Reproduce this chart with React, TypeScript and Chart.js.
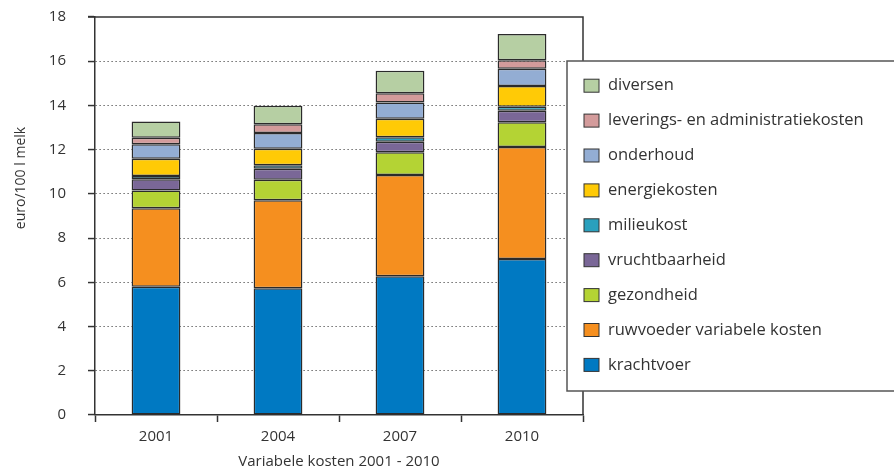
import React, { useEffect, useRef } from "react";
import { Chart, registerables } from "chart.js";

Chart.register(...registerables);

const categories = ["2001", "2004", "2007", "2010"];
const krachtvoer = [5.8, 5.73, 6.27, 7.06];
const ruwvoeder = [3.55, 3.98, 4.58, 5.06];
const gezondheid = [0.8, 0.93, 1.03, 1.12];
const vruchtbaarheid = [0.51, 0.5, 0.48, 0.52];
const milieukost = [0.15, 0.15, 0.2, 0.18];
const energiekosten = [0.78, 0.75, 0.84, 0.94];
const onderhoud = [0.65, 0.71, 0.73, 0.78];
const leverings = [0.3, 0.4, 0.42, 0.38];
const diversen = [0.73, 0.84, 1.02, 1.19];
const yTicks = [0, 2, 4, 6, 8, 10, 12, 14, 16, 18];

const FONT = "'Open Sans', 'Noto Sans', sans-serif";
const TXT = "#333333";

const overlayPlugin = {
  id: "overlay",
  afterDraw(chart: any) {
    const { ctx, chartArea } = chart;
    ctx.save();
    ctx.strokeStyle = "#333";
    ctx.lineWidth = 1.5;
    ctx.beginPath();
    ctx.moveTo(chartArea.left - 7, chartArea.top);
    ctx.lineTo(chartArea.right, chartArea.top);
    ctx.lineTo(chartArea.right, chartArea.bottom);
    ctx.stroke();

    ctx.fillStyle = TXT;
    ctx.font = `14px ${FONT}`;
    ctx.textAlign = "center";
    ctx.textBaseline = "middle";
    ctx.save();
    ctx.translate(21, 178);
    ctx.rotate(-Math.PI / 2);
    ctx.fillText("euro/100 l melk", 0, 0);
    ctx.restore();

    const lx = 567, ly = 61, lb = 391;
    ctx.fillStyle = "#fff";
    ctx.fillRect(lx, ly, 400, lb - ly);
    ctx.strokeStyle = "#555";
    ctx.lineWidth = 1.5;
    ctx.strokeRect(lx, ly, 400, lb - ly);

    const ds = chart.data.datasets.slice().reverse();
    const y0 = 85.7;
    const step = 34.9;
    ctx.font = `16.5px ${FONT}`;
    ctx.textAlign = "left";
    ctx.textBaseline = "middle";
    ds.forEach((d: any, i: number) => {
      const cy = y0 + i * step;
      ctx.fillStyle = d.backgroundColor;
      ctx.fillRect(584, cy - 6.5, 15, 13);
      ctx.strokeStyle = "#333";
      ctx.lineWidth = 1;
      ctx.strokeRect(584, cy - 6.5, 15, 13);
      ctx.fillStyle = TXT;
      ctx.fillText(d.label, 608, cy);
    });
    ctx.restore();
  },
};

export default function App() {
  const ref = useRef<HTMLCanvasElement | null>(null);
  useEffect(() => {
    if (!ref.current) return;
    const mk = (label: string, data: number[], color: string) => ({
      label,
      data,
      backgroundColor: color,
      borderColor: "#2b2b2b",
      borderWidth: 1.5,
      borderSkipped: false,
      inflateAmount: 0,
      barPercentage: 0.4,
      categoryPercentage: 1,
    });
    const chart = new Chart(ref.current, {
      type: "bar",
      data: {
        labels: categories,
        datasets: [
          mk("krachtvoer", krachtvoer, "#0079c2"),
          mk("ruwvoeder variabele kosten", ruwvoeder, "#f58f1f"),
          mk("gezondheid", gezondheid, "#b4d334"),
          mk("vruchtbaarheid", vruchtbaarheid, "#7a6797"),
          mk("milieukost", milieukost, "#2aa0bd"),
          mk("energiekosten", energiekosten, "#ffca06"),
          mk("onderhoud", onderhoud, "#93add3"),
          mk("leverings- en administratiekosten", leverings, "#d39b9b"),
          mk("diversen", diversen, "#b6cfa3"),
        ] as any,
      },
      options: {
        responsive: false,
        animation: false,
        layout: { padding: { top: 17, right: 311, left: 0, bottom: 0 } },
        plugins: { legend: { display: false }, tooltip: { enabled: false } },
        scales: {
          x: {
            stacked: true,
            afterFit: (s: any) => {
              s.height = 56;
              s.paddingLeft = 0;
              s.paddingRight = 0;
            },
            grid: {
              display: true,
              drawOnChartArea: false,
              drawTicks: true,
              tickLength: 7,
              offset: true,
              tickColor: "#333",
              tickWidth: 1.5,
            },
            border: { display: true, color: "#333", width: 1.5 },
            ticks: { color: TXT, font: { family: FONT, size: 15 }, padding: 6 },
            title: {
              display: true,
              text: "Variabele kosten 2001 - 2010",
              color: TXT,
              font: { family: FONT, size: 15, lineHeight: 1.2 },
              padding: { top: 0, bottom: 0 },
            },
          },
          y: {
            stacked: true,
            min: 0,
            max: 18,
            afterFit: (s: any) => {
              s.width = 95;
              s.paddingTop = 0;
              s.paddingBottom = 0;
            },
            afterBuildTicks: (s: any) => {
              s.ticks = yTicks.map((v) => ({ value: v }));
            },
            grid: {
              color: (c: any) =>
                c.tick && (c.tick.value === 0 || c.tick.value === 18) ? "rgba(0,0,0,0)" : "#4a4a4a",
              lineWidth: 1.1,
              tickLength: 7,
              tickColor: "#333",
              tickWidth: 1.5,
              tickBorderDash: [],
            },
            border: { display: true, color: "#333", width: 1.5, dash: [1.2, 2.8] },
            ticks: { color: TXT, font: { family: FONT, size: 15 }, padding: 22 },
          },
        },
      } as any,
      plugins: [overlayPlugin],
    });
    return () => chart.destroy();
  }, []);
  return (
    <div style={{ position: "fixed", left: 0, top: 0, width: 894, height: 471, background: "#fff" }}>
      <canvas ref={ref} width={894} height={471} style={{ width: 894, height: 471 }} />
    </div>
  );
}
